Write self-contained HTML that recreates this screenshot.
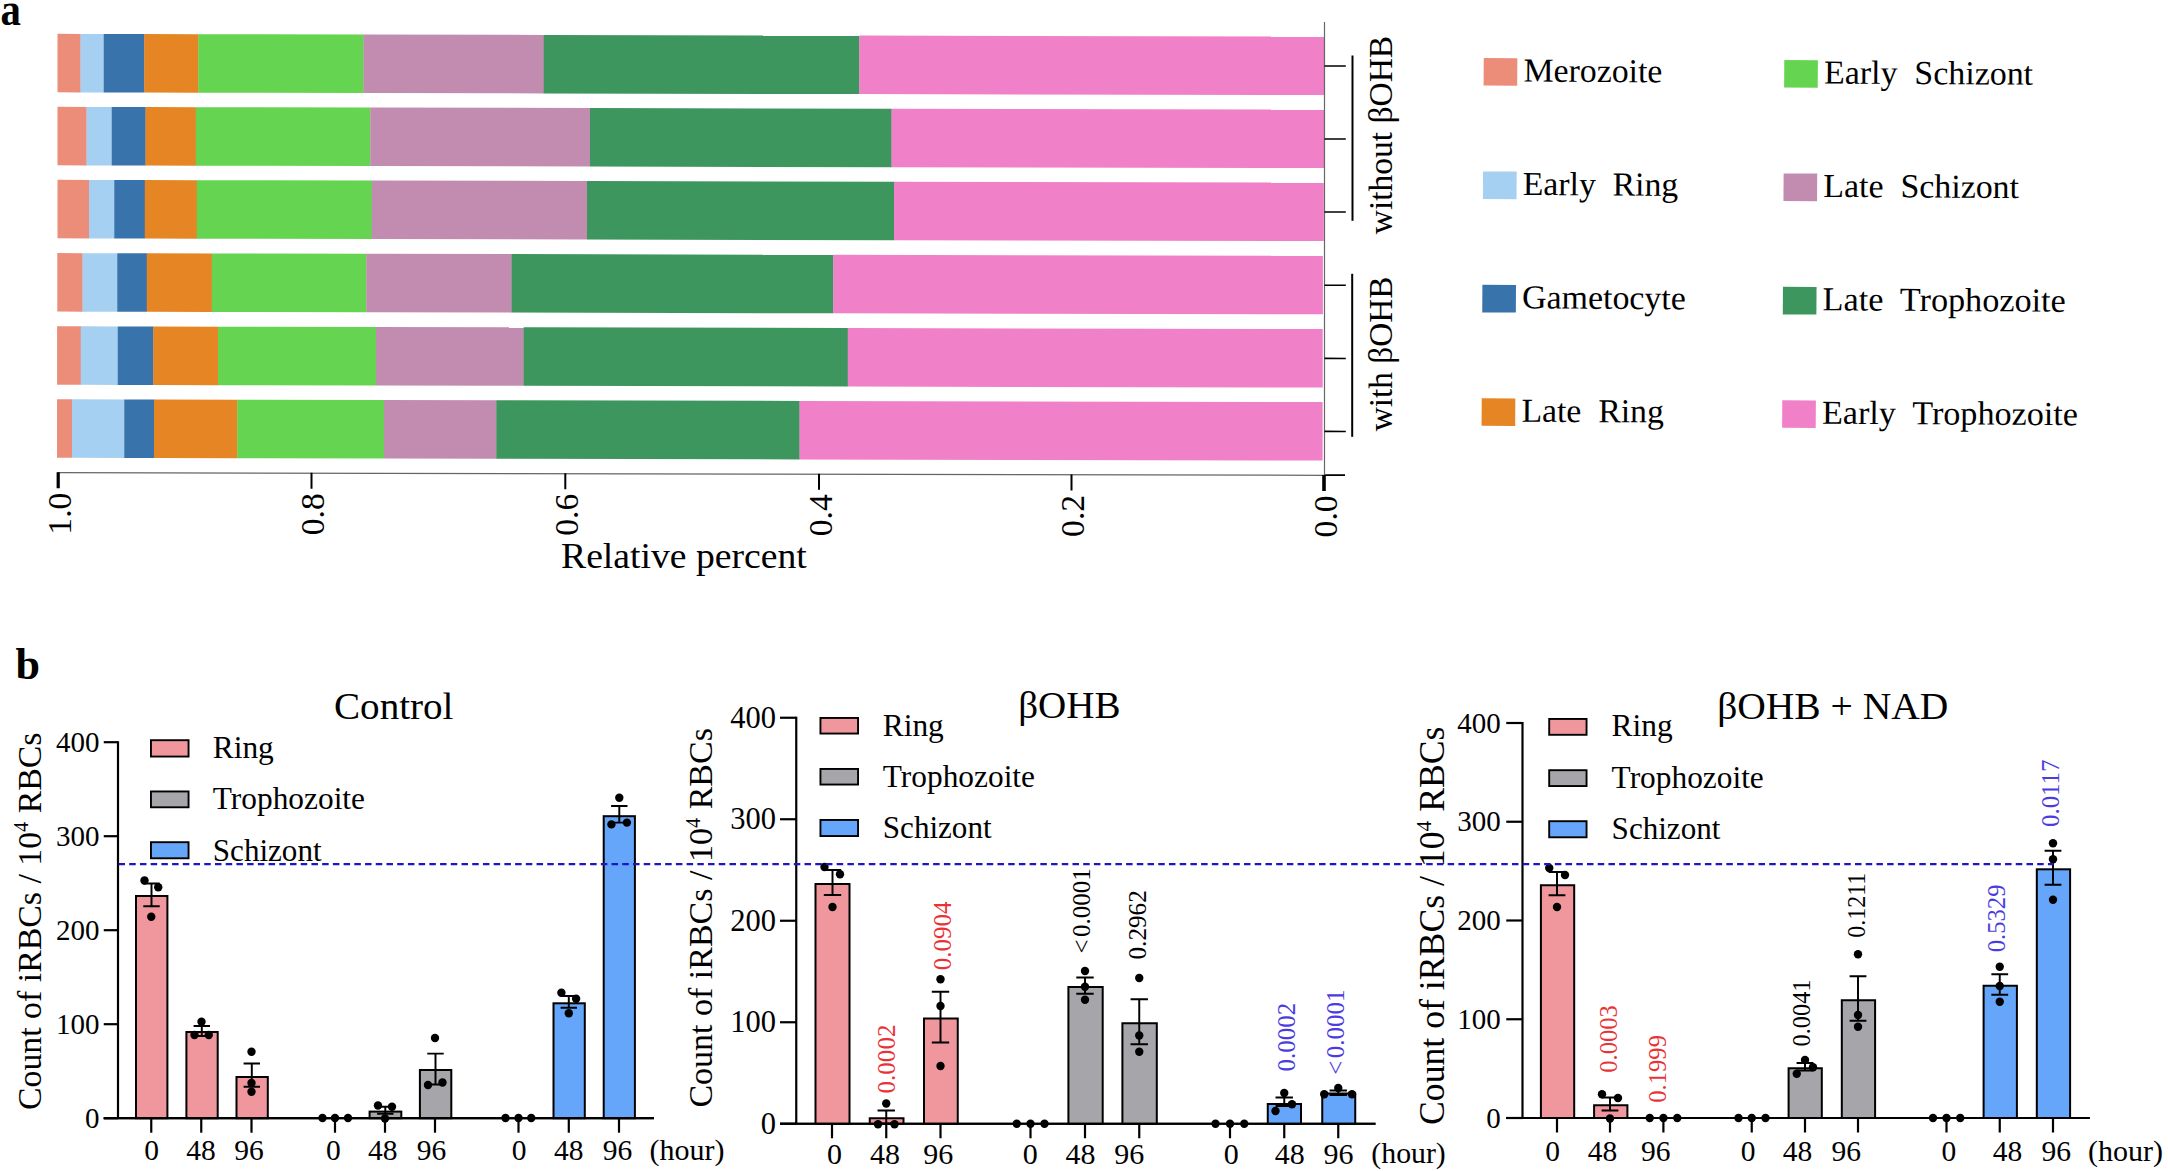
<!DOCTYPE html>
<html lang="en"><head><meta charset="utf-8"><title>Figure</title>
<style>
html,body{margin:0;padding:0;background:#fff;}
body{width:2168px;height:1171px;overflow:hidden;}
svg{display:block;font-family:"Liberation Serif", "DejaVu Serif", serif;}
</style></head><body>
<svg width="2168" height="1171" viewBox="0 0 2168 1171">
<rect width="2168" height="1171" fill="#fff"/>
<g id="panelA">
<text x="0.60" y="24.60" font-size="45.5" font-weight="bold" textLength="20.40" lengthAdjust="spacingAndGlyphs">a</text>
<g transform="translate(57.5,0) skewY(0.1245) translate(-57.5,0)">
<rect x="57.50" y="33.85" width="23.30" height="58.5" fill="#EC8D79"/>
<rect x="80.50" y="33.85" width="23.55" height="58.5" fill="#A6D0F1"/>
<rect x="103.75" y="33.85" width="40.80" height="58.5" fill="#3873AB"/>
<rect x="144.25" y="33.85" width="54.30" height="58.5" fill="#E68524"/>
<rect x="198.25" y="33.85" width="165.55" height="58.5" fill="#65D551"/>
<rect x="363.50" y="33.85" width="180.55" height="58.5" fill="#C28CB0"/>
<rect x="543.75" y="33.85" width="315.80" height="58.5" fill="#3C965E"/>
<rect x="859.25" y="33.85" width="465.05" height="58.5" fill="#F080C8"/>
<rect x="57.50" y="106.85" width="29.30" height="58.5" fill="#EC8D79"/>
<rect x="86.50" y="106.85" width="25.55" height="58.5" fill="#A6D0F1"/>
<rect x="111.75" y="106.85" width="34.05" height="58.5" fill="#3873AB"/>
<rect x="145.50" y="106.85" width="50.55" height="58.5" fill="#E68524"/>
<rect x="195.75" y="106.85" width="174.80" height="58.5" fill="#65D551"/>
<rect x="370.25" y="106.85" width="220.05" height="58.5" fill="#C28CB0"/>
<rect x="590.00" y="106.85" width="301.80" height="58.5" fill="#3C965E"/>
<rect x="891.50" y="106.85" width="432.60" height="58.5" fill="#F080C8"/>
<rect x="57.50" y="179.85" width="31.80" height="58.5" fill="#EC8D79"/>
<rect x="89.00" y="179.85" width="25.55" height="58.5" fill="#A6D0F1"/>
<rect x="114.25" y="179.85" width="30.80" height="58.5" fill="#3873AB"/>
<rect x="144.75" y="179.85" width="52.30" height="58.5" fill="#E68524"/>
<rect x="196.75" y="179.85" width="175.30" height="58.5" fill="#65D551"/>
<rect x="371.75" y="179.85" width="215.55" height="58.5" fill="#C28CB0"/>
<rect x="587.00" y="179.85" width="307.30" height="58.5" fill="#3C965E"/>
<rect x="894.00" y="179.85" width="429.80" height="58.5" fill="#F080C8"/>
<rect x="57.30" y="253.10" width="25.50" height="58.5" fill="#EC8D79"/>
<rect x="82.50" y="253.10" width="35.05" height="58.5" fill="#A6D0F1"/>
<rect x="117.25" y="253.10" width="29.80" height="58.5" fill="#3873AB"/>
<rect x="146.75" y="253.10" width="65.30" height="58.5" fill="#E68524"/>
<rect x="211.75" y="253.10" width="154.80" height="58.5" fill="#65D551"/>
<rect x="366.25" y="253.10" width="145.65" height="58.5" fill="#C28CB0"/>
<rect x="511.60" y="253.10" width="321.95" height="58.5" fill="#3C965E"/>
<rect x="833.25" y="253.10" width="489.65" height="58.5" fill="#F080C8"/>
<rect x="57.10" y="326.30" width="23.95" height="58.5" fill="#EC8D79"/>
<rect x="80.75" y="326.30" width="37.30" height="58.5" fill="#A6D0F1"/>
<rect x="117.75" y="326.30" width="35.80" height="58.5" fill="#3873AB"/>
<rect x="153.25" y="326.30" width="65.05" height="58.5" fill="#E68524"/>
<rect x="218.00" y="326.30" width="158.30" height="58.5" fill="#65D551"/>
<rect x="376.00" y="326.30" width="147.90" height="58.5" fill="#C28CB0"/>
<rect x="523.60" y="326.30" width="324.45" height="58.5" fill="#3C965E"/>
<rect x="847.75" y="326.30" width="474.95" height="58.5" fill="#F080C8"/>
<rect x="57.00" y="399.30" width="15.30" height="58.5" fill="#EC8D79"/>
<rect x="72.00" y="399.30" width="52.55" height="58.5" fill="#A6D0F1"/>
<rect x="124.25" y="399.30" width="30.05" height="58.5" fill="#3873AB"/>
<rect x="154.00" y="399.30" width="83.55" height="58.5" fill="#E68524"/>
<rect x="237.25" y="399.30" width="147.05" height="58.5" fill="#65D551"/>
<rect x="384.00" y="399.30" width="112.60" height="58.5" fill="#C28CB0"/>
<rect x="496.30" y="399.30" width="303.50" height="58.5" fill="#3C965E"/>
<rect x="799.50" y="399.30" width="523.10" height="58.5" fill="#F080C8"/>
<line x1="57.5" y1="472.6" x2="1325" y2="472.6" stroke="#666" stroke-width="1.25"/>
<line x1="1324" y1="472.40000000000003" x2="1345" y2="472.40000000000003" stroke="#000" stroke-width="1.7"/>
<line x1="1324.5" y1="19.3" x2="1324.5" y2="472.6" stroke="#666" stroke-width="1.2"/>
<line x1="58.2" y1="472.20000000000005" x2="58.2" y2="488.20000000000005" stroke="#000" stroke-width="3.2"/>
<line x1="311.5" y1="472.20000000000005" x2="311.5" y2="488.20000000000005" stroke="#000" stroke-width="2"/>
<line x1="565.3" y1="472.20000000000005" x2="565.3" y2="488.20000000000005" stroke="#000" stroke-width="2"/>
<line x1="819.0" y1="472.20000000000005" x2="819.0" y2="488.20000000000005" stroke="#000" stroke-width="2"/>
<line x1="1071.5" y1="472.20000000000005" x2="1071.5" y2="488.20000000000005" stroke="#000" stroke-width="2"/>
<line x1="1324.0" y1="472.20000000000005" x2="1324.0" y2="488.20000000000005" stroke="#000" stroke-width="3.6"/>
<line x1="1324.5" y1="63.20" x2="1345.8" y2="63.20" stroke="#000" stroke-width="1.6"/>
<line x1="1324.5" y1="136.20" x2="1345.8" y2="136.20" stroke="#000" stroke-width="1.6"/>
<line x1="1324.5" y1="209.20" x2="1345.8" y2="209.20" stroke="#000" stroke-width="1.6"/>
<line x1="1324.5" y1="282.45" x2="1345.8" y2="282.45" stroke="#000" stroke-width="1.6"/>
<line x1="1324.5" y1="355.65" x2="1345.8" y2="355.65" stroke="#000" stroke-width="1.6"/>
<line x1="1324.5" y1="428.65" x2="1345.8" y2="428.65" stroke="#000" stroke-width="1.6"/>
</g>
<text x="0" y="0" transform="translate(70.90,492.60) rotate(-90)" font-size="33.7" text-anchor="end">1.0</text>
<text x="0" y="0" transform="translate(324.20,493.15) rotate(-90)" font-size="33.7" text-anchor="end">0.8</text>
<text x="0" y="0" transform="translate(578.00,493.70) rotate(-90)" font-size="33.7" text-anchor="end">0.6</text>
<text x="0" y="0" transform="translate(831.70,494.25) rotate(-90)" font-size="33.7" text-anchor="end">0.4</text>
<text x="0" y="0" transform="translate(1084.20,494.80) rotate(-90)" font-size="33.7" text-anchor="end">0.2</text>
<text x="0" y="0" transform="translate(1336.70,495.35) rotate(-90)" font-size="33.7" text-anchor="end">0.0</text>
<text x="561.00" y="567.90" font-size="36" textLength="245.80" lengthAdjust="spacingAndGlyphs">Relative percent</text>
<line x1="1352.5" y1="55.5" x2="1352.5" y2="220.8" stroke="#000" stroke-width="2"/>
<line x1="1352.2" y1="273.8" x2="1352.2" y2="436.8" stroke="#000" stroke-width="2"/>
<text x="0" y="0" transform="translate(1392.40,234.30) rotate(-90)" font-size="34" textLength="198.50" lengthAdjust="spacingAndGlyphs">without βOHB</text>
<text x="0" y="0" transform="translate(1392.40,431.30) rotate(-90)" font-size="34" textLength="154.80" lengthAdjust="spacingAndGlyphs">with βOHB</text>
<g transform="rotate(0.34 1483.75 58)">
<rect x="1483.75" y="58.00" width="33.6" height="27.6" fill="#EC8D79"/>
<text x="1523.55" y="81.30" font-size="33.5" textLength="138.95" lengthAdjust="spacingAndGlyphs" xml:space="preserve">Merozoite</text>
<rect x="1483.75" y="171.40" width="33.6" height="27.6" fill="#A6D0F1"/>
<text x="1523.55" y="194.70" font-size="33.5" textLength="155.45" lengthAdjust="spacingAndGlyphs" xml:space="preserve">Early  Ring</text>
<rect x="1483.75" y="284.80" width="33.6" height="27.6" fill="#3873AB"/>
<text x="1523.55" y="308.10" font-size="33.5" textLength="163.70" lengthAdjust="spacingAndGlyphs" xml:space="preserve">Gametocyte</text>
<rect x="1483.75" y="398.20" width="33.6" height="27.6" fill="#E68524"/>
<text x="1523.55" y="421.50" font-size="33.5" textLength="142.45" lengthAdjust="spacingAndGlyphs" xml:space="preserve">Late  Ring</text>
<rect x="1784.3" y="58.20" width="33.6" height="27.6" fill="#65D551"/>
<text x="1824.10" y="81.50" font-size="33.5" textLength="209.10" lengthAdjust="spacingAndGlyphs" xml:space="preserve">Early  Schizont</text>
<rect x="1784.3" y="171.60" width="33.6" height="27.6" fill="#C28CB0"/>
<text x="1824.10" y="194.90" font-size="33.5" textLength="195.70" lengthAdjust="spacingAndGlyphs" xml:space="preserve">Late  Schizont</text>
<rect x="1784.3" y="285.00" width="33.6" height="27.6" fill="#3C965E"/>
<text x="1824.10" y="308.30" font-size="33.5" textLength="243.20" lengthAdjust="spacingAndGlyphs" xml:space="preserve">Late  Trophozoite</text>
<rect x="1784.3" y="398.40" width="33.6" height="27.6" fill="#F080C8"/>
<text x="1824.10" y="421.70" font-size="33.5" textLength="255.90" lengthAdjust="spacingAndGlyphs" xml:space="preserve">Early  Trophozoite</text>
</g>
</g>
<g id="panelB">
<text x="15.60" y="679.40" font-size="44" font-weight="bold">b</text>
<path d="M118.0 741.2 V1118.2" stroke="#000" stroke-width="2.2" fill="none"/>
<path d="M103.75 1118.2 H654" stroke="#000" stroke-width="2.2" fill="none"/>
<line x1="103.75" y1="1118.20" x2="118.0" y2="1118.20" stroke="#000" stroke-width="2.2"/>
<text x="99.50" y="1127.91" font-size="29" text-anchor="end">0</text>
<line x1="103.75" y1="1024.20" x2="118.0" y2="1024.20" stroke="#000" stroke-width="2.2"/>
<text x="99.50" y="1033.91" font-size="29" text-anchor="end">100</text>
<line x1="103.75" y1="930.20" x2="118.0" y2="930.20" stroke="#000" stroke-width="2.2"/>
<text x="99.50" y="939.92" font-size="29" text-anchor="end">200</text>
<line x1="103.75" y1="836.20" x2="118.0" y2="836.20" stroke="#000" stroke-width="2.2"/>
<text x="99.50" y="845.92" font-size="29" text-anchor="end">300</text>
<line x1="103.75" y1="742.20" x2="118.0" y2="742.20" stroke="#000" stroke-width="2.2"/>
<text x="99.50" y="751.92" font-size="29" text-anchor="end">400</text>
<line x1="151.25" y1="1118.2" x2="151.25" y2="1132.7" stroke="#000" stroke-width="2.2"/>
<line x1="201.25" y1="1118.2" x2="201.25" y2="1132.7" stroke="#000" stroke-width="2.2"/>
<line x1="251.5" y1="1118.2" x2="251.5" y2="1132.7" stroke="#000" stroke-width="2.2"/>
<line x1="335" y1="1118.2" x2="335" y2="1132.7" stroke="#000" stroke-width="2.2"/>
<line x1="385" y1="1118.2" x2="385" y2="1132.7" stroke="#000" stroke-width="2.2"/>
<line x1="435" y1="1118.2" x2="435" y2="1132.7" stroke="#000" stroke-width="2.2"/>
<line x1="518.5" y1="1118.2" x2="518.5" y2="1132.7" stroke="#000" stroke-width="2.2"/>
<line x1="568.8" y1="1118.2" x2="568.8" y2="1132.7" stroke="#000" stroke-width="2.2"/>
<line x1="619" y1="1118.2" x2="619" y2="1132.7" stroke="#000" stroke-width="2.2"/>
<text x="151.50" y="1160.00" font-size="29.5" text-anchor="middle">0</text>
<text x="201.10" y="1160.00" font-size="29.5" text-anchor="middle">48</text>
<text x="249.10" y="1160.00" font-size="29.5" text-anchor="middle">96</text>
<text x="333.30" y="1160.00" font-size="29.5" text-anchor="middle">0</text>
<text x="382.80" y="1160.00" font-size="29.5" text-anchor="middle">48</text>
<text x="431.40" y="1160.00" font-size="29.5" text-anchor="middle">96</text>
<text x="519.10" y="1160.00" font-size="29.5" text-anchor="middle">0</text>
<text x="568.70" y="1160.00" font-size="29.5" text-anchor="middle">48</text>
<text x="617.60" y="1160.00" font-size="29.5" text-anchor="middle">96</text>
<rect x="136.00" y="896.00" width="31.40" height="222.20" fill="#F0979E" stroke="#000" stroke-width="2.0"/>
<rect x="186.40" y="1032.00" width="31.30" height="86.20" fill="#F0979E" stroke="#000" stroke-width="2.0"/>
<rect x="236.50" y="1077.00" width="31.30" height="41.20" fill="#F0979E" stroke="#000" stroke-width="2.0"/>
<rect x="369.60" y="1111.60" width="31.70" height="6.60" fill="#A6A5AA" stroke="#000" stroke-width="2.0"/>
<rect x="419.90" y="1070.00" width="31.40" height="48.20" fill="#A6A5AA" stroke="#000" stroke-width="2.0"/>
<rect x="553.50" y="1003.30" width="31.30" height="114.90" fill="#66A6FA" stroke="#000" stroke-width="2.0"/>
<rect x="603.70" y="816.20" width="31.20" height="302.00" fill="#66A6FA" stroke="#000" stroke-width="2.0"/>
<path d="M103.75 1118.2 H654" stroke="#000" stroke-width="2.2" fill="none"/>
<path d="M143.3 883.5 H159.7 M151.5 883.5 V906.25 M143.3 906.25 H159.7" stroke="#000" stroke-width="1.95" fill="none"/>
<path d="M193.60000000000002 1026 H210.0 M201.8 1026 V1036 M193.60000000000002 1036 H210.0" stroke="#000" stroke-width="1.95" fill="none"/>
<path d="M243.60000000000002 1063.5 H260.0 M251.8 1063.5 V1086.75 M243.60000000000002 1086.75 H260.0" stroke="#000" stroke-width="1.95" fill="none"/>
<path d="M377.1 1106.75 H393.5 M385.3 1106.75 V1113.75 M377.1 1113.75 H393.5" stroke="#000" stroke-width="1.95" fill="none"/>
<path d="M427.3 1053.6 H443.7 M435.5 1053.6 V1084.4 M427.3 1084.4 H443.7" stroke="#000" stroke-width="1.95" fill="none"/>
<path d="M560.5999999999999 996 H577.0 M568.8 996 V1007.8 M560.5999999999999 1007.8 H577.0" stroke="#000" stroke-width="1.95" fill="none"/>
<path d="M611.0999999999999 806 H627.5 M619.3 806 V822.6 M611.0999999999999 822.6 H627.5" stroke="#000" stroke-width="1.95" fill="none"/>
<circle cx="144.5" cy="880.5" r="4.2"/>
<circle cx="158.25" cy="887.25" r="4.2"/>
<circle cx="151.25" cy="916.75" r="4.2"/>
<circle cx="201.5" cy="1021.75" r="4.2"/>
<circle cx="194.5" cy="1035" r="4.2"/>
<circle cx="208.75" cy="1035" r="4.2"/>
<circle cx="251.5" cy="1051.75" r="4.2"/>
<circle cx="251.5" cy="1083" r="4.2"/>
<circle cx="251.5" cy="1091.75" r="4.2"/>
<circle cx="322.5" cy="1118" r="4.2"/>
<circle cx="335" cy="1118" r="4.2"/>
<circle cx="348" cy="1118" r="4.2"/>
<circle cx="378" cy="1105.5" r="4.2"/>
<circle cx="392" cy="1106.75" r="4.2"/>
<circle cx="385" cy="1118.5" r="4.2"/>
<circle cx="435" cy="1038" r="4.2"/>
<circle cx="428" cy="1085" r="4.2"/>
<circle cx="442.5" cy="1082.5" r="4.2"/>
<circle cx="505.5" cy="1118" r="4.2"/>
<circle cx="518.5" cy="1118" r="4.2"/>
<circle cx="531.25" cy="1118" r="4.2"/>
<circle cx="561.4" cy="992.7" r="4.2"/>
<circle cx="576.1" cy="998.7" r="4.2"/>
<circle cx="568.8" cy="1013.3" r="4.2"/>
<circle cx="619.3" cy="797.7" r="4.2"/>
<circle cx="611.4" cy="824.4" r="4.2"/>
<circle cx="626.9" cy="822.6" r="4.2"/>
<rect x="150.95" y="740.20" width="37.60" height="16.35" fill="#F0979E" stroke="#000" stroke-width="1.9"/>
<text x="212.80" y="758.25" font-size="31" textLength="61.00" lengthAdjust="spacingAndGlyphs">Ring</text>
<rect x="150.95" y="791.45" width="37.60" height="15.85" fill="#A6A5AA" stroke="#000" stroke-width="1.9"/>
<text x="212.80" y="809.25" font-size="31" textLength="152.20" lengthAdjust="spacingAndGlyphs">Trophozoite</text>
<rect x="150.95" y="842.20" width="37.60" height="16.10" fill="#66A6FA" stroke="#000" stroke-width="1.9"/>
<text x="212.80" y="860.50" font-size="31" textLength="108.80" lengthAdjust="spacingAndGlyphs">Schizont</text>
<text x="334.00" y="718.75" font-size="38.5" textLength="119.50" lengthAdjust="spacingAndGlyphs">Control</text>
<text x="649.50" y="1160.00" font-size="29.5" textLength="75.00" lengthAdjust="spacingAndGlyphs">(hour)</text>
<text x="0" y="0" transform="translate(40.60,1110.00) rotate(-90)" font-size="34" textLength="377.50" lengthAdjust="spacingAndGlyphs">Count of iRBCs / 10<tspan font-size="20.4" dy="-12.2">4</tspan><tspan dy="12.2"> RBCs</tspan></text>
<path d="M796.25 716.75 V1123.75" stroke="#000" stroke-width="2.2" fill="none"/>
<path d="M780 1123.75 H1375.5" stroke="#000" stroke-width="2.2" fill="none"/>
<line x1="780" y1="1123.75" x2="796.25" y2="1123.75" stroke="#000" stroke-width="2.2"/>
<text x="776.00" y="1133.97" font-size="30.5" text-anchor="end">0</text>
<line x1="780" y1="1022.25" x2="796.25" y2="1022.25" stroke="#000" stroke-width="2.2"/>
<text x="776.00" y="1032.47" font-size="30.5" text-anchor="end">100</text>
<line x1="780" y1="920.75" x2="796.25" y2="920.75" stroke="#000" stroke-width="2.2"/>
<text x="776.00" y="930.97" font-size="30.5" text-anchor="end">200</text>
<line x1="780" y1="819.25" x2="796.25" y2="819.25" stroke="#000" stroke-width="2.2"/>
<text x="776.00" y="829.47" font-size="30.5" text-anchor="end">300</text>
<line x1="780" y1="717.75" x2="796.25" y2="717.75" stroke="#000" stroke-width="2.2"/>
<text x="776.00" y="727.97" font-size="30.5" text-anchor="end">400</text>
<line x1="832" y1="1123.75" x2="832" y2="1138.25" stroke="#000" stroke-width="2.2"/>
<line x1="886.25" y1="1123.75" x2="886.25" y2="1138.25" stroke="#000" stroke-width="2.2"/>
<line x1="940.5" y1="1123.75" x2="940.5" y2="1138.25" stroke="#000" stroke-width="2.2"/>
<line x1="1030.5" y1="1123.75" x2="1030.5" y2="1138.25" stroke="#000" stroke-width="2.2"/>
<line x1="1085" y1="1123.75" x2="1085" y2="1138.25" stroke="#000" stroke-width="2.2"/>
<line x1="1139.25" y1="1123.75" x2="1139.25" y2="1138.25" stroke="#000" stroke-width="2.2"/>
<line x1="1230" y1="1123.75" x2="1230" y2="1138.25" stroke="#000" stroke-width="2.2"/>
<line x1="1284.25" y1="1123.75" x2="1284.25" y2="1138.25" stroke="#000" stroke-width="2.2"/>
<line x1="1338.25" y1="1123.75" x2="1338.25" y2="1138.25" stroke="#000" stroke-width="2.2"/>
<text x="834.40" y="1164.00" font-size="30" text-anchor="middle">0</text>
<text x="884.90" y="1164.00" font-size="30" text-anchor="middle">48</text>
<text x="938.20" y="1164.00" font-size="30" text-anchor="middle">96</text>
<text x="1030.30" y="1164.00" font-size="30" text-anchor="middle">0</text>
<text x="1080.40" y="1164.00" font-size="30" text-anchor="middle">48</text>
<text x="1129.20" y="1164.00" font-size="30" text-anchor="middle">96</text>
<text x="1231.20" y="1164.00" font-size="30" text-anchor="middle">0</text>
<text x="1289.80" y="1164.00" font-size="30" text-anchor="middle">48</text>
<text x="1338.40" y="1164.00" font-size="30" text-anchor="middle">96</text>
<rect x="815.50" y="884.00" width="34.00" height="239.75" fill="#F0979E" stroke="#000" stroke-width="2.0"/>
<rect x="869.75" y="1118.25" width="33.75" height="5.50" fill="#F0979E" stroke="#000" stroke-width="2.0"/>
<rect x="924.00" y="1018.50" width="33.75" height="105.25" fill="#F0979E" stroke="#000" stroke-width="2.0"/>
<rect x="1068.40" y="987.00" width="34.30" height="136.75" fill="#A6A5AA" stroke="#000" stroke-width="2.0"/>
<rect x="1122.40" y="1023.25" width="34.40" height="100.50" fill="#A6A5AA" stroke="#000" stroke-width="2.0"/>
<rect x="1267.75" y="1104.00" width="33.25" height="19.75" fill="#66A6FA" stroke="#000" stroke-width="2.0"/>
<rect x="1322.25" y="1093.50" width="33.00" height="30.25" fill="#66A6FA" stroke="#000" stroke-width="2.0"/>
<path d="M780 1123.75 H1375.5" stroke="#000" stroke-width="2.2" fill="none"/>
<path d="M823.8 870 H841.2 M832.5 870 V895 M823.8 895 H841.2" stroke="#000" stroke-width="1.95" fill="none"/>
<path d="M877.55 1110.5 H894.95 M886.25 1110.5 V1123.5 M877.55 1123.5 H894.95" stroke="#000" stroke-width="1.95" fill="none"/>
<path d="M931.8 991.75 H949.2 M940.5 991.75 V1042.5 M931.8 1042.5 H949.2" stroke="#000" stroke-width="1.95" fill="none"/>
<path d="M1076.3 977.5 H1093.7 M1085 977.5 V993.75 M1076.3 993.75 H1093.7" stroke="#000" stroke-width="1.95" fill="none"/>
<path d="M1130.55 999.25 H1147.95 M1139.25 999.25 V1044.25 M1130.55 1044.25 H1147.95" stroke="#000" stroke-width="1.95" fill="none"/>
<path d="M1275.55 1097.5 H1292.95 M1284.25 1097.5 V1106 M1275.55 1106 H1292.95" stroke="#000" stroke-width="1.95" fill="none"/>
<path d="M1329.55 1090.5 H1346.95 M1338.25 1090.5 V1095 M1329.55 1095 H1346.95" stroke="#000" stroke-width="1.95" fill="none"/>
<circle cx="824.5" cy="867" r="4.2"/>
<circle cx="840" cy="874.25" r="4.2"/>
<circle cx="832.5" cy="907" r="4.2"/>
<circle cx="886.25" cy="1103.5" r="4.2"/>
<circle cx="878" cy="1124.25" r="4.2"/>
<circle cx="894.5" cy="1124.25" r="4.2"/>
<circle cx="940.5" cy="979.25" r="4.2"/>
<circle cx="940.5" cy="1006" r="4.2"/>
<circle cx="940.5" cy="1066" r="4.2"/>
<circle cx="1016.75" cy="1123.75" r="4.2"/>
<circle cx="1030.5" cy="1123.75" r="4.2"/>
<circle cx="1044.5" cy="1123.75" r="4.2"/>
<circle cx="1085" cy="971" r="4.2"/>
<circle cx="1085" cy="986.75" r="4.2"/>
<circle cx="1085" cy="999.75" r="4.2"/>
<circle cx="1139.25" cy="978" r="4.2"/>
<circle cx="1139.25" cy="1035.5" r="4.2"/>
<circle cx="1139.25" cy="1051.75" r="4.2"/>
<circle cx="1215.5" cy="1123.75" r="4.2"/>
<circle cx="1230" cy="1123.75" r="4.2"/>
<circle cx="1244.25" cy="1123.75" r="4.2"/>
<circle cx="1284.25" cy="1093" r="4.2"/>
<circle cx="1292" cy="1104.25" r="4.2"/>
<circle cx="1275.5" cy="1111" r="4.2"/>
<circle cx="1338.25" cy="1088" r="4.2"/>
<circle cx="1324.25" cy="1094.25" r="4.2"/>
<circle cx="1352" cy="1094.25" r="4.2"/>
<rect x="820.45" y="717.95" width="37.60" height="15.60" fill="#F0979E" stroke="#000" stroke-width="1.9"/>
<text x="882.80" y="735.50" font-size="31" textLength="61.00" lengthAdjust="spacingAndGlyphs">Ring</text>
<rect x="820.45" y="768.95" width="37.60" height="15.60" fill="#A6A5AA" stroke="#000" stroke-width="1.9"/>
<text x="882.80" y="786.50" font-size="31" textLength="152.20" lengthAdjust="spacingAndGlyphs">Trophozoite</text>
<rect x="820.45" y="819.95" width="37.60" height="16.10" fill="#66A6FA" stroke="#000" stroke-width="1.9"/>
<text x="882.80" y="837.50" font-size="31" textLength="108.80" lengthAdjust="spacingAndGlyphs">Schizont</text>
<text x="0" y="0" transform="translate(895.10,1093.50) rotate(-90)" font-size="25.5" fill="#EA3236" textLength="69.00" lengthAdjust="spacingAndGlyphs">0.0002</text>
<text x="0" y="0" transform="translate(951.30,970.25) rotate(-90)" font-size="25.5" fill="#EA3236" textLength="68.75" lengthAdjust="spacingAndGlyphs">0.0904</text>
<text x="0" y="0" transform="translate(1090.10,953.60) rotate(-90)" font-size="25">&lt;<tspan dx="2.6">0.0001</tspan></text>
<text x="0" y="0" transform="translate(1146.00,959.50) rotate(-90)" font-size="25.5" textLength="69.25" lengthAdjust="spacingAndGlyphs">0.2962</text>
<text x="0" y="0" transform="translate(1294.60,1071.50) rotate(-90)" font-size="25.5" fill="#4A3CE0" textLength="68.75" lengthAdjust="spacingAndGlyphs">0.0002</text>
<text x="0" y="0" transform="translate(1344.40,1074.85) rotate(-90)" font-size="25" fill="#4A3CE0">&lt;<tspan dx="2.6">0.0001</tspan></text>
<text x="1018.20" y="718.30" font-size="38" textLength="102.40" lengthAdjust="spacingAndGlyphs">βOHB</text>
<text x="1371.30" y="1163.00" font-size="30" textLength="74.50" lengthAdjust="spacingAndGlyphs">(hour)</text>
<text x="0" y="0" transform="translate(712.40,1107.60) rotate(-90)" font-size="34" textLength="379.50" lengthAdjust="spacingAndGlyphs">Count of iRBCs / 10<tspan font-size="20.4" dy="-12.2">4</tspan><tspan dy="12.2"> RBCs</tspan></text>
<path d="M1522.5 722 V1118" stroke="#000" stroke-width="2.2" fill="none"/>
<path d="M1506.25 1118 H2089.75" stroke="#000" stroke-width="2.2" fill="none"/>
<line x1="1506.25" y1="1118.00" x2="1522.5" y2="1118.00" stroke="#000" stroke-width="2.2"/>
<text x="1500.80" y="1127.71" font-size="29" text-anchor="end">0</text>
<line x1="1506.25" y1="1019.25" x2="1522.5" y2="1019.25" stroke="#000" stroke-width="2.2"/>
<text x="1500.80" y="1028.96" font-size="29" text-anchor="end">100</text>
<line x1="1506.25" y1="920.50" x2="1522.5" y2="920.50" stroke="#000" stroke-width="2.2"/>
<text x="1500.80" y="930.22" font-size="29" text-anchor="end">200</text>
<line x1="1506.25" y1="821.75" x2="1522.5" y2="821.75" stroke="#000" stroke-width="2.2"/>
<text x="1500.80" y="831.47" font-size="29" text-anchor="end">300</text>
<line x1="1506.25" y1="723.00" x2="1522.5" y2="723.00" stroke="#000" stroke-width="2.2"/>
<text x="1500.80" y="732.72" font-size="29" text-anchor="end">400</text>
<line x1="1557" y1="1118" x2="1557" y2="1132.5" stroke="#000" stroke-width="2.2"/>
<line x1="1610" y1="1118" x2="1610" y2="1132.5" stroke="#000" stroke-width="2.2"/>
<line x1="1663.4" y1="1118" x2="1663.4" y2="1132.5" stroke="#000" stroke-width="2.2"/>
<line x1="1751.75" y1="1118" x2="1751.75" y2="1132.5" stroke="#000" stroke-width="2.2"/>
<line x1="1805" y1="1118" x2="1805" y2="1132.5" stroke="#000" stroke-width="2.2"/>
<line x1="1858" y1="1118" x2="1858" y2="1132.5" stroke="#000" stroke-width="2.2"/>
<line x1="1946.5" y1="1118" x2="1946.5" y2="1132.5" stroke="#000" stroke-width="2.2"/>
<line x1="1999.75" y1="1118" x2="1999.75" y2="1132.5" stroke="#000" stroke-width="2.2"/>
<line x1="2053" y1="1118" x2="2053" y2="1132.5" stroke="#000" stroke-width="2.2"/>
<text x="1552.60" y="1161.00" font-size="29.5" text-anchor="middle">0</text>
<text x="1602.50" y="1161.00" font-size="29.5" text-anchor="middle">48</text>
<text x="1655.70" y="1161.00" font-size="29.5" text-anchor="middle">96</text>
<text x="1748.20" y="1161.00" font-size="29.5" text-anchor="middle">0</text>
<text x="1797.60" y="1161.00" font-size="29.5" text-anchor="middle">48</text>
<text x="1846.20" y="1161.00" font-size="29.5" text-anchor="middle">96</text>
<text x="1948.90" y="1161.00" font-size="29.5" text-anchor="middle">0</text>
<text x="2007.40" y="1161.00" font-size="29.5" text-anchor="middle">48</text>
<text x="2056.20" y="1161.00" font-size="29.5" text-anchor="middle">96</text>
<rect x="1540.90" y="885.25" width="33.30" height="232.75" fill="#F0979E" stroke="#000" stroke-width="2.0"/>
<rect x="1594.10" y="1105.25" width="33.30" height="12.75" fill="#F0979E" stroke="#000" stroke-width="2.0"/>
<rect x="1788.60" y="1068.25" width="33.20" height="49.75" fill="#A6A5AA" stroke="#000" stroke-width="2.0"/>
<rect x="1841.80" y="1000.25" width="33.30" height="117.75" fill="#A6A5AA" stroke="#000" stroke-width="2.0"/>
<rect x="1983.60" y="985.75" width="33.30" height="132.25" fill="#66A6FA" stroke="#000" stroke-width="2.0"/>
<rect x="2036.80" y="869.30" width="33.30" height="248.70" fill="#66A6FA" stroke="#000" stroke-width="2.0"/>
<path d="M1506.25 1118 H2089.75" stroke="#000" stroke-width="2.2" fill="none"/>
<path d="M1548.6 872 H1565.4 M1557 872 V895.25 M1548.6 895.25 H1565.4" stroke="#000" stroke-width="1.95" fill="none"/>
<path d="M1601.6 1097.5 H1618.4 M1610 1097.5 V1110.5 M1601.6 1110.5 H1618.4" stroke="#000" stroke-width="1.95" fill="none"/>
<path d="M1796.6 1063 H1813.4 M1805 1063 V1070.5 M1796.6 1070.5 H1813.4" stroke="#000" stroke-width="1.95" fill="none"/>
<path d="M1849.6 976.25 H1866.4 M1858 976.25 V1020.75 M1849.6 1020.75 H1866.4" stroke="#000" stroke-width="1.95" fill="none"/>
<path d="M1991.35 974.25 H2008.15 M1999.75 974.25 V994.75 M1991.35 994.75 H2008.15" stroke="#000" stroke-width="1.95" fill="none"/>
<path d="M2044.6 850.8 H2061.4 M2053 850.8 V884.7 M2044.6 884.7 H2061.4" stroke="#000" stroke-width="1.95" fill="none"/>
<circle cx="1549.25" cy="868" r="4.2"/>
<circle cx="1565" cy="875" r="4.2"/>
<circle cx="1557" cy="907" r="4.2"/>
<circle cx="1602" cy="1094.25" r="4.2"/>
<circle cx="1618" cy="1098" r="4.2"/>
<circle cx="1610" cy="1118.5" r="4.2"/>
<circle cx="1649.75" cy="1118" r="4.2"/>
<circle cx="1663.4" cy="1118" r="4.2"/>
<circle cx="1677.25" cy="1118" r="4.2"/>
<circle cx="1738.5" cy="1118" r="4.2"/>
<circle cx="1751.75" cy="1118" r="4.2"/>
<circle cx="1765.5" cy="1118" r="4.2"/>
<circle cx="1805" cy="1060" r="4.2"/>
<circle cx="1813" cy="1067.25" r="4.2"/>
<circle cx="1796.75" cy="1073.75" r="4.2"/>
<circle cx="1858" cy="954.25" r="4.2"/>
<circle cx="1858" cy="1015" r="4.2"/>
<circle cx="1858" cy="1026.75" r="4.2"/>
<circle cx="1933" cy="1118" r="4.2"/>
<circle cx="1946.5" cy="1118" r="4.2"/>
<circle cx="1960.25" cy="1118" r="4.2"/>
<circle cx="1999.75" cy="966.75" r="4.2"/>
<circle cx="1999.75" cy="986" r="4.2"/>
<circle cx="1999.75" cy="1001.75" r="4.2"/>
<circle cx="2053" cy="843.2" r="4.2"/>
<circle cx="2053" cy="859.2" r="4.2"/>
<circle cx="2053" cy="899.8" r="4.2"/>
<rect x="1549.20" y="718.95" width="37.35" height="15.85" fill="#F0979E" stroke="#000" stroke-width="1.9"/>
<text x="1611.60" y="736.25" font-size="31" textLength="61.00" lengthAdjust="spacingAndGlyphs">Ring</text>
<rect x="1549.20" y="770.20" width="37.35" height="15.85" fill="#A6A5AA" stroke="#000" stroke-width="1.9"/>
<text x="1611.60" y="787.50" font-size="31" textLength="152.20" lengthAdjust="spacingAndGlyphs">Trophozoite</text>
<rect x="1549.20" y="821.20" width="37.35" height="16.10" fill="#66A6FA" stroke="#000" stroke-width="1.9"/>
<text x="1611.60" y="838.75" font-size="31" textLength="108.80" lengthAdjust="spacingAndGlyphs">Schizont</text>
<text x="0" y="0" transform="translate(1617.10,1072.75) rotate(-90)" font-size="25.5" fill="#EA3236" textLength="67.50" lengthAdjust="spacingAndGlyphs">0.0003</text>
<text x="0" y="0" transform="translate(1665.60,1102.75) rotate(-90)" font-size="25.5" fill="#EA3236" textLength="67.75" lengthAdjust="spacingAndGlyphs">0.1999</text>
<text x="0" y="0" transform="translate(1810.20,1046.50) rotate(-90)" font-size="25.5" textLength="67.00" lengthAdjust="spacingAndGlyphs">0.0041</text>
<text x="0" y="0" transform="translate(1865.30,937.75) rotate(-90)" font-size="25.5" textLength="65.00" lengthAdjust="spacingAndGlyphs">0.1211</text>
<text x="0" y="0" transform="translate(2005.20,952.25) rotate(-90)" font-size="25.5" fill="#4A3CE0" textLength="67.75" lengthAdjust="spacingAndGlyphs">0.5329</text>
<text x="0" y="0" transform="translate(2059.10,827.00) rotate(-90)" font-size="25.5" fill="#4A3CE0" textLength="67.50" lengthAdjust="spacingAndGlyphs">0.0117</text>
<text x="1717.20" y="718.70" font-size="38" textLength="231.20" lengthAdjust="spacingAndGlyphs">βOHB + NAD</text>
<text x="2088.00" y="1160.50" font-size="29.5" textLength="75.00" lengthAdjust="spacingAndGlyphs">(hour)</text>
<text x="0" y="0" transform="translate(1443.80,1125.00) rotate(-90)" font-size="36" textLength="398.50" lengthAdjust="spacingAndGlyphs">Count of iRBCs / 10<tspan font-size="21.6" dy="-13.0">4</tspan><tspan dy="13.0"> RBCs</tspan></text>
<line x1="118.5" y1="864.1" x2="2053.4" y2="864.1" stroke="#1E14C8" stroke-width="2.1" stroke-dasharray="6.5 4.219"/>
</g>
</svg>
</body></html>
